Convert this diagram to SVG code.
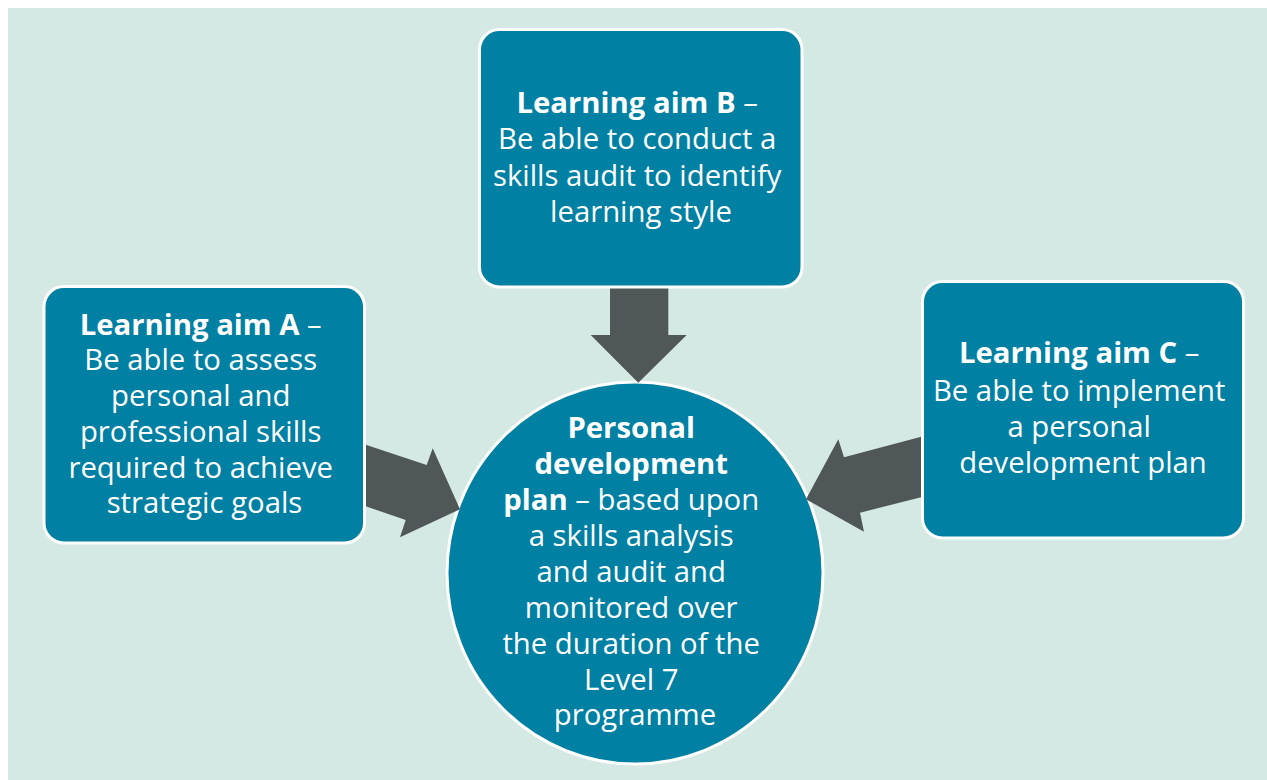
<svg xmlns="http://www.w3.org/2000/svg" width="1267" height="780" viewBox="0 0 1267 780">
  <style>
    .bg { fill: #d4e9e3; }
    .node { fill: #0080a3; stroke: #ffffff; stroke-width: 3; }
    .arrow { fill: #4f5759; }
    .label { font-family: "Open Sans", "Liberation Sans", sans-serif; font-size: 29.3px; fill: #ffffff; text-anchor: middle; }
    .b { font-weight: bold; }
  </style>

  <!-- page background -->
  <rect class="bg" x="8" y="8" width="1259" height="772"/>

  <!-- central goal -->
  <g id="node-pdp">
    <ellipse class="node" cx="635" cy="573" rx="188" ry="191"/>
    <text class="label">
      <tspan class="b" x="635" y="438">Personal</tspan>
      <tspan class="b" x="635" y="474">development</tspan>
      <tspan x="635" y="510"><tspan class="b">plan</tspan> – based upon</tspan>
      <tspan x="635" y="546">a skills analysis</tspan>
      <tspan x="635" y="582">and audit and</tspan>
      <tspan x="635" y="618">monitored over</tspan>
      <tspan x="635" y="654">the duration of the</tspan>
      <tspan x="635" y="690">Level 7</tspan>
      <tspan x="635" y="725">programme</tspan>
    </text>
  </g>

  <!-- block arrows feeding into the plan -->
  <g id="connectors">
    <polygon class="arrow" points="362,443.5 426.7,465 432.7,448.3 460,509.3 400,537.3 405.7,520 362,505"/>
    <polygon class="arrow" points="610,286 668.3,286 668.3,335 686.7,335 638.3,382.7 590.7,335 610,335"/>
    <polygon class="arrow" points="924,436 844,457.3 838.3,439.3 806,499.3 864,531.7 860,512.7 924,496.5"/>
  </g>

  <g id="node-aim-a">
    <rect class="node" x="44" y="286.5" width="320.5" height="256.5" rx="20"/>
    <text class="label">
      <tspan x="204.5" y="335"><tspan class="b">Learning aim A</tspan> –</tspan>
      <tspan x="204.5" y="370">Be able to assess</tspan>
      <tspan x="204.5" y="406">personal and</tspan>
      <tspan x="204.5" y="442">professional skills</tspan>
      <tspan x="204.5" y="478">required to achieve</tspan>
      <tspan x="204.5" y="513">strategic goals</tspan>
    </text>
  </g>

  <g id="node-aim-b">
    <rect class="node" x="479.5" y="29.5" width="322.5" height="257.5" rx="20"/>
    <text class="label">
      <tspan x="641" y="113"><tspan class="b">Learning aim B</tspan> –</tspan>
      <tspan x="641" y="149">Be able to conduct a</tspan>
      <tspan x="641" y="186">skills audit to identify</tspan>
      <tspan x="641" y="222">learning style</tspan>
    </text>
  </g>

  <g id="node-aim-c">
    <rect class="node" x="922.5" y="281.5" width="321" height="256.5" rx="20"/>
    <text class="label">
      <tspan x="1083" y="363"><tspan class="b">Learning aim C</tspan> –</tspan>
      <tspan x="1083" y="401">Be able to implement</tspan>
      <tspan x="1083" y="437">a personal</tspan>
      <tspan x="1083" y="473">development plan</tspan>
    </text>
  </g>
</svg>
